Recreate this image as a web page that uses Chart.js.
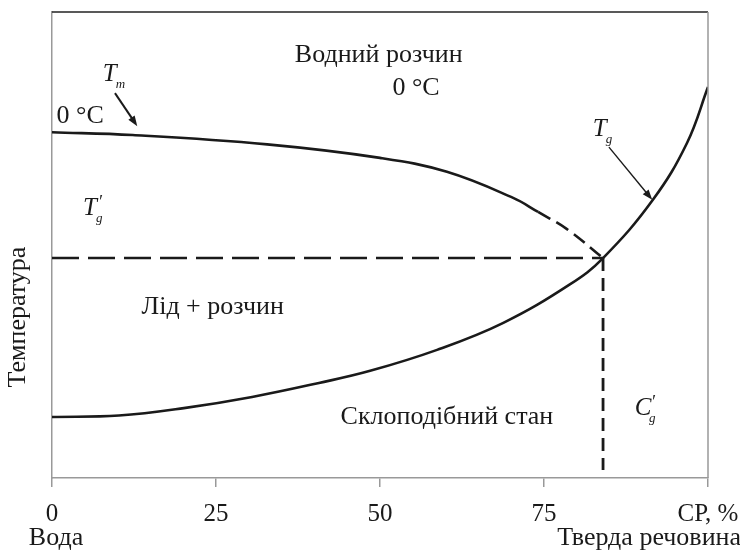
<!DOCTYPE html>
<html>
<head>
<meta charset="utf-8">
<script src="https://cdn.jsdelivr.net/npm/chart.js@4.4.0/dist/chart.umd.min.js"></script>
<style>
  html, body { margin: 0; padding: 0; background: #fff; }
  #wrap { width: 740px; height: 552px; }
</style>
</head>
<body>
<div id="wrap"><canvas id="chart"></canvas></div>
<script>
// Dry matter, % (x) against temperature on a relative 0-100 scale (y)
const meltX = [0, 12.3, 32.8, 50.0, 60.2, 70.3, 74.1];
const meltY = [74.2, 73.6, 71.6, 68.7, 65.7, 60.1, 57.1];
const meltDashX = [74.1, 78.5, 84.0];
const meltDashY = [57.1, 53.4, 47.2];
const glassX = [0, 10.2, 20.1, 30.5, 40.7, 48.5, 58.7, 68.8, 79.0, 84.0, 91.6, 96.8, 100];
const glassY = [13.1, 13.4, 15.0, 17.4, 20.4, 23.0, 27.5, 33.3, 41.6, 47.2, 59.7, 71.9, 83.9];
const tgPrimeX = [0, 84.0];
const tgPrimeY = [47.2, 47.2];
const cgPrimeX = [84.0, 84.0];
const cgPrimeY = [47.2, 1.7];

const tickValues = [0, 25, 50, 75, 100];
const tickLabels = ['0', '25', '50', '75', 'СР, %'];

// region captions, in data coordinates
const captions = [
    { text: 'Водний розчин', x: 49.8, y: 90.8 },
    { text: '0 °C', x: 55.5, y: 83.7 },
    { text: '0 °C', x: 4.3, y: 77.7 },
    { text: 'Лід + розчин', x: 24.5, y: 36.7 },
    { text: 'Склоподібний стан', x: 60.2, y: 13.1 }
];
// italic symbols: letter, subscript, prime
const symbols = [
    { main: 'T', sub: 'm', prime: false, x: 8.8, y: 86.5 },
    { main: 'T', sub: 'g', prime: true, x: 5.8, y: 57.9 },
    { main: 'T', sub: 'g', prime: false, x: 83.5, y: 74.7 },
    { main: 'C', sub: 'g', prime: true, x: 90.1, y: 15.0 }
];
const arrows = [
    { x1: 9.6, y1: 82.6, x2: 13.0, y2: 75.5, w: 2 },
    { x1: 84.9, y1: 71.0, x2: 91.5, y2: 59.7, w: 1.4 }
];

const pts = (xs, ys) => xs.map((x, i) => ({ x: x, y: ys[i] }));
const SERIF = '"Liberation Serif", "DejaVu Serif", serif';
const INK = '#1a1a1a';
const AXIS = '#999';

function drawArrow(ctx, ax, ay, bx, by, w) {
    const ang = Math.atan2(by - ay, bx - ax);
    const head = 11;
    ctx.save();
    ctx.strokeStyle = INK;
    ctx.fillStyle = INK;
    ctx.lineWidth = w;
    ctx.beginPath();
    ctx.moveTo(ax, ay);
    ctx.lineTo(bx - Math.cos(ang) * head * 0.8, by - Math.sin(ang) * head * 0.8);
    ctx.stroke();
    ctx.beginPath();
    ctx.moveTo(bx, by);
    ctx.lineTo(bx - head * Math.cos(ang - 0.35), by - head * Math.sin(ang - 0.35));
    ctx.lineTo(bx - head * Math.cos(ang + 0.35), by - head * Math.sin(ang + 0.35));
    ctx.closePath();
    ctx.fill();
    ctx.restore();
}

const decorations = {
    id: 'decorations',
    afterDraw(chart) {
        const { ctx, chartArea: a, scales } = chart;
        const sx = scales.x, sy = scales.y;
        ctx.save();

        // frame: dark top edge, grey right edge
        ctx.strokeStyle = '#222';
        ctx.lineWidth = 1.5;
        ctx.beginPath();
        ctx.moveTo(a.left, a.top);
        ctx.lineTo(a.right, a.top);
        ctx.stroke();
        ctx.strokeStyle = AXIS;
        ctx.lineWidth = 1.5;
        ctx.beginPath();
        ctx.moveTo(a.right, a.top);
        ctx.lineTo(a.right, a.bottom);
        ctx.stroke();

        ctx.fillStyle = INK;
        ctx.textBaseline = 'middle';
        ctx.textAlign = 'center';
        ctx.font = '26px ' + SERIF;
        captions.forEach(c => {
            ctx.fillText(c.text, sx.getPixelForValue(c.x), sy.getPixelForValue(c.y));
        });

        symbols.forEach(s => {
            const px = sx.getPixelForValue(s.x);
            const py = sy.getPixelForValue(s.y);
            ctx.font = 'italic 25px ' + SERIF;
            ctx.textAlign = 'center';
            ctx.fillText(s.main, px, py);
            ctx.font = 'italic 13px ' + SERIF;
            ctx.textAlign = 'left';
            ctx.fillText(s.sub, px + 6, py + 10);
            if (s.prime) {
                ctx.font = 'italic 18px ' + SERIF;
                ctx.fillText('′', px + 8, py - 5);
            }
        });

        arrows.forEach(r => {
            drawArrow(ctx, sx.getPixelForValue(r.x1), sy.getPixelForValue(r.y1),
                sx.getPixelForValue(r.x2), sy.getPixelForValue(r.y2), r.w);
        });

        // axis captions
        ctx.font = '26px ' + SERIF;
        ctx.textAlign = 'center';
        ctx.fillText('Вода', 56, 538);
        ctx.textAlign = 'right';
        ctx.fillText('Тверда речовина', 741, 538);

        ctx.translate(18, 317);
        ctx.rotate(-Math.PI / 2);
        ctx.textAlign = 'center';
        ctx.fillText('Температура', 0, 0);
        ctx.restore();
    }
};

new Chart(document.getElementById('chart'), {
    type: 'line',
    data: {
        datasets: [
            { data: pts(meltX, meltY), borderColor: INK, borderWidth: 2.6, tension: 0.4 },
            { data: pts(meltDashX, meltDashY), borderColor: INK, borderWidth: 2.6, borderDash: [14, 7], tension: 0.4 },
            { data: pts(glassX, glassY), borderColor: INK, borderWidth: 2.6, tension: 0.4 },
            { data: pts(tgPrimeX, tgPrimeY), borderColor: INK, borderWidth: 2.6, borderDash: [27, 9] },
            { data: pts(cgPrimeX, cgPrimeY), borderColor: INK, borderWidth: 2.8, borderDash: [13, 7] }
        ]
    },
    options: {
        responsive: true,
        maintainAspectRatio: false,
        animation: false,
        events: [],
        layout: { padding: { top: 12, right: 32, left: 0, bottom: 0 } },
        elements: { point: { radius: 0 } },
        plugins: { legend: { display: false }, tooltip: { enabled: false } },
        scales: {
            x: {
                type: 'linear',
                min: 0,
                max: 100,
                afterBuildTicks: s => { s.ticks = tickValues.map(v => ({ value: v })); },
                afterFit: s => {
                    s.height = 74;
                    s.paddingLeft = 0;
                    s.paddingRight = 0;
                },
                grid: { display: true, drawOnChartArea: false, drawTicks: true, tickLength: 9, color: AXIS, lineWidth: 1.5 },
                border: { display: true, color: AXIS, width: 1.5 },
                ticks: {
                    color: INK,
                    padding: 12,
                    maxRotation: 0,
                    font: { family: SERIF, size: 25 },
                    callback: v => tickLabels[tickValues.indexOf(v)]
                }
            },
            y: {
                min: 0,
                max: 100,
                afterFit: s => { s.width = 52; },
                grid: { display: false },
                border: { display: true, color: AXIS, width: 1.5 },
                ticks: { display: false }
            }
        }
    },
    plugins: [decorations]
});
</script>
</body>
</html>
